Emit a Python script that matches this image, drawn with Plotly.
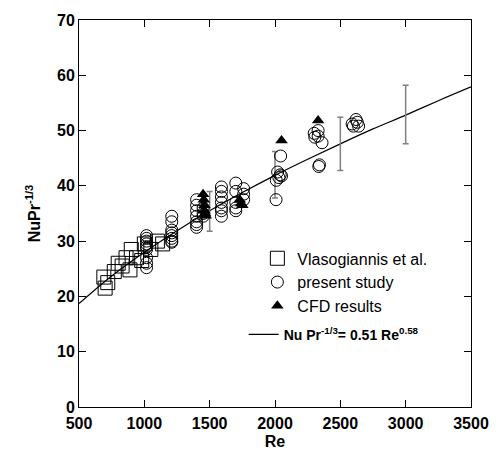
import plotly.graph_objects as go

# ---- data ----
sq_re = [690, 700, 720, 770, 800, 830, 860, 890, 900, 940, 980, 1000, 1050, 1100, 1140]
sq_v = [23.5, 21.5, 22.5, 24.5, 26.0, 25.5, 27.0, 24.8, 28.5, 27.0, 26.5, 29.5, 28.5, 30.0, 29.5]

c_re = ([1017] * 9 + [1210] * 8 + [1400] * 7 + [1450] * 3 + [1590] * 7 + [1700] * 5 + [1760] * 3
        + [2008, 2010, 2020, 2030, 2040, 2043, 2050]
        + [2300, 2305, 2330, 2330, 2335, 2340, 2360]
        + [2590, 2600, 2620, 2630, 2640])
c_v = ([31.0, 30.5, 30.0, 29.5, 29.0, 28.5, 27.0, 26.0, 25.2]
       + [34.5, 33.5, 32.0, 31.5, 31.0, 30.5, 30.0, 29.8]
       + [37.5, 36.5, 35.5, 34.5, 33.5, 33.0, 32.5]
       + [36.0, 35.0, 34.5]
       + [39.8, 39.0, 38.0, 37.0, 36.0, 35.5, 34.5]
       + [40.5, 39.0, 37.0, 36.0, 35.5]
       + [39.5, 38.5, 37.5]
       + [37.5, 41.0, 42.5, 41.5, 42.0, 45.4, 41.8]
       + [49.5, 48.8, 50.0, 49.0, 43.5, 43.8, 47.8]
       + [51.2, 50.8, 52.0, 51.5, 50.8])

tri_re = [1450, 1455, 1460, 1460, 1465, 1470, 1730, 1740, 1750, 2050, 2330]
tri_v = [38.5, 37.5, 36.5, 35.5, 35.0, 34.6, 37.5, 36.8, 36.5, 48.2, 51.8]

fit_re = [500, 750, 1000, 1250, 1500, 1750, 2000, 2250, 2500, 2750, 3000, 3250, 3500]
fit_v = [18.7, 23.7, 28.0, 31.9, 35.5, 38.8, 41.9, 44.8, 47.6, 50.3, 52.8, 55.4, 57.9]

eb_re = [1500, 2000, 2500, 3000]
eb_v = [35.4, 42.0, 47.6, 52.9]
eb_err = [3.6, 4.2, 4.8, 5.3]

FONT = "Arial, Liberation Sans, sans-serif"

fig = go.Figure()

fig.add_trace(go.Scatter(
    x=fit_re, y=fit_v, mode="lines", line=dict(color="black", width=1.2, shape="spline"),
    name="<b>Nu Pr<sup>-1/3</sup>= 0.51 Re<sup>0.58</sup></b>", legend="legend2"))

fig.add_trace(go.Scatter(
    x=eb_re, y=eb_v, mode="markers", marker=dict(size=1, color="rgba(0,0,0,0)"),
    error_y=dict(type="data", array=eb_err, visible=True, color="#808080", thickness=1.5, width=3),
    showlegend=False, hoverinfo="skip"))

fig.add_trace(go.Scatter(
    x=sq_re, y=sq_v, mode="markers", name="Vlasogiannis et al.",
    marker=dict(symbol="square-open", size=14, color="black", line=dict(width=1))))

fig.add_trace(go.Scatter(
    x=c_re, y=c_v, mode="markers", name="present study",
    marker=dict(symbol="circle-open", size=12, color="black", line=dict(width=1))))

fig.add_trace(go.Scatter(
    x=tri_re, y=tri_v, mode="markers", name="CFD results",
    marker=dict(symbol="triangle-up", size=11, color="black")))

axis_common = dict(
    showgrid=False, zeroline=False, showline=True, linecolor="black", linewidth=1,
    mirror="ticks", ticks="inside", ticklen=7, tickcolor="black",
    tickfont=dict(family=FONT, size=16, color="black", weight="bold"),
)

fig.update_layout(
    width=501, height=461,
    margin=dict(l=79, r=28, t=15, b=54),
    paper_bgcolor="white", plot_bgcolor="white",
    font=dict(family=FONT, color="black"),
    xaxis=dict(range=[500, 3500], dtick=500, tick0=500, ticklabelstandoff=2,
               title=dict(text="<b>Re</b>", font=dict(family=FONT, size=16), standoff=4),
               **axis_common),
    yaxis=dict(range=[0, 70], dtick=10, tick0=0,
               title=dict(text="<b>NuPr<sup>-1/3</sup></b>", font=dict(family=FONT, size=16), standoff=12),
               **axis_common),
    legend=dict(x=0.455, y=0.428, xanchor="left", yanchor="top", bgcolor="rgba(0,0,0,0)",
                font=dict(family=FONT, size=16, color="black"), tracegroupgap=0, itemwidth=30),
    legend2=dict(x=0.42, y=0.228, xanchor="left", yanchor="top", bgcolor="rgba(0,0,0,0)",
                 font=dict(family=FONT, size=14, color="black"), itemwidth=30),
)

fig.write_html("out.html")
